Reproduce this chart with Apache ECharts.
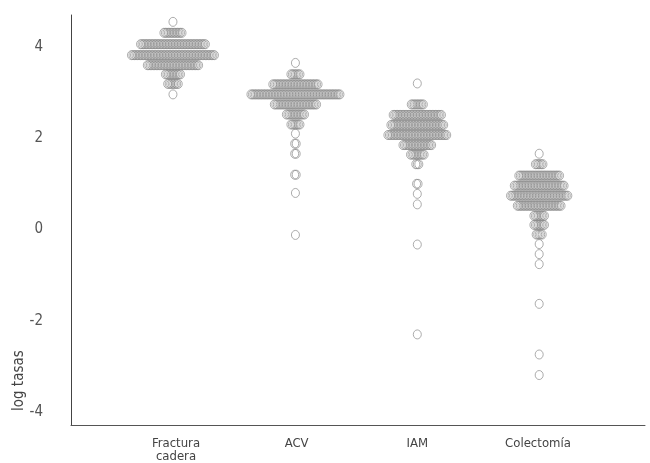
<!DOCTYPE html>
<html>
<head>
<meta charset="utf-8">
<script src="https://cdn.jsdelivr.net/npm/echarts@6/dist/echarts.min.js"></script>
<style>
  html, body { margin: 0; padding: 0; background: #fff; }
  #main { width: 650px; height: 463px; }
</style>
</head>
<body>
<div id="main"></div>
<script>
// categories and y tick labels
var categories = ['Fractura\ncadera', 'ACV', 'IAM', 'Colectomía'];
var yTicks = [-4, -2, 0, 2, 4];

// each category: observed log rate levels and how many areas sit at each level
var fracturaVals = [4.55, 4.31, 4.06, 3.82, 3.60, 3.40, 3.19, 2.96];
var fracturaCounts = [1, 13, 44, 56, 35, 11, 8, 1];

var acvVals = [3.65, 3.40, 3.18, 2.96, 2.74, 2.52, 2.30, 2.10, 1.88, 1.66, 1.20, 0.80, -0.12];
var acvCounts = [1, 7, 31, 60, 29, 13, 7, 1, 2, 2, 2, 1, 1];

var iamVals = [3.20, 2.74, 2.51, 2.29, 2.07, 1.85, 1.64, 1.43, 1.00, 0.78, 0.55, -0.33, -2.30];
var iamCounts = [1, 9, 33, 36, 40, 20, 10, 3, 2, 1, 1, 1, 1];

var colectVals = [1.66, 1.43, 1.18, 0.96, 0.74, 0.52, 0.30, 0.10, -0.11, -0.32, -0.54, -0.76, -1.63, -2.74, -3.19];
var colectCounts = [1, 6, 28, 34, 39, 30, 8, 8, 5, 1, 1, 1, 1, 1, 1];

// horizontal spread between neighbours in a row (x axis units)
var step = 0.0125;

// lay each row out side by side, centred on the category
function swarm(center, vals, counts) {
    var pts = [];
    for (var i = 0; i < vals.length; i++) {
        var n = counts[i];
        for (var k = 0; k < n; k++) {
            pts.push([center + (k - (n - 1) / 2) * step, vals[i]]);
        }
    }
    return pts;
}

var groups = [
    swarm(0.975, fracturaVals, fracturaCounts),
    swarm(1.99, acvVals, acvCounts),
    swarm(3, iamVals, iamCounts),
    swarm(4.01, colectVals, colectCounts)
];

var chart = echarts.init(document.getElementById('main'));

var font = '"DejaVu Sans Condensed", "Liberation Sans Narrow", Roboto, sans-serif';

option = {
    animation: false,
    grid: { left: 71, right: 5, top: 15, bottom: 38 },
    xAxis: {
        type: 'value',
        min: 0.13,
        max: 4.887,
        splitLine: { show: false },
        axisTick: { show: false },
        axisLine: { show: true, onZero: false, lineStyle: { color: '#555', width: 1 } },
        axisLabel: {
            customValues: [1, 2, 3, 4],
            formatter: function (v) { return categories[Math.round(v) - 1]; },
            color: '#444',
            fontFamily: font,
            fontSize: 13,
            lineHeight: 13,
            margin: 12
        }
    },
    yAxis: {
        type: 'value',
        min: -4.285,
        max: 4.70,
        splitLine: { show: false },
        axisTick: { show: false },
        axisLine: { show: true, onZero: false, lineStyle: { color: '#444', width: 1 } },
        axisLabel: {
            customValues: yTicks,
            color: '#555',
            fontFamily: font,
            fontSize: 15,
            margin: 28
        }
    },
    graphic: [{
        type: 'text',
        x: 27,
        y: 411,
        rotation: Math.PI / 2,
        style: {
            text: 'log tasas',
            fill: '#444',
            font: '15px ' + font,
            textAlign: 'left',
            textVerticalAlign: 'bottom'
        }
    }],
    series: groups.map(function (g) {
        return {
            type: 'scatter',
            data: g,
            symbol: 'circle',
            symbolSize: [8, 9],
            itemStyle: { color: 'rgba(0,0,0,0)', borderColor: '#8c8c8c', borderWidth: 0.9 }
        };
    })
};

chart.setOption(option);
</script>
</body>
</html>
